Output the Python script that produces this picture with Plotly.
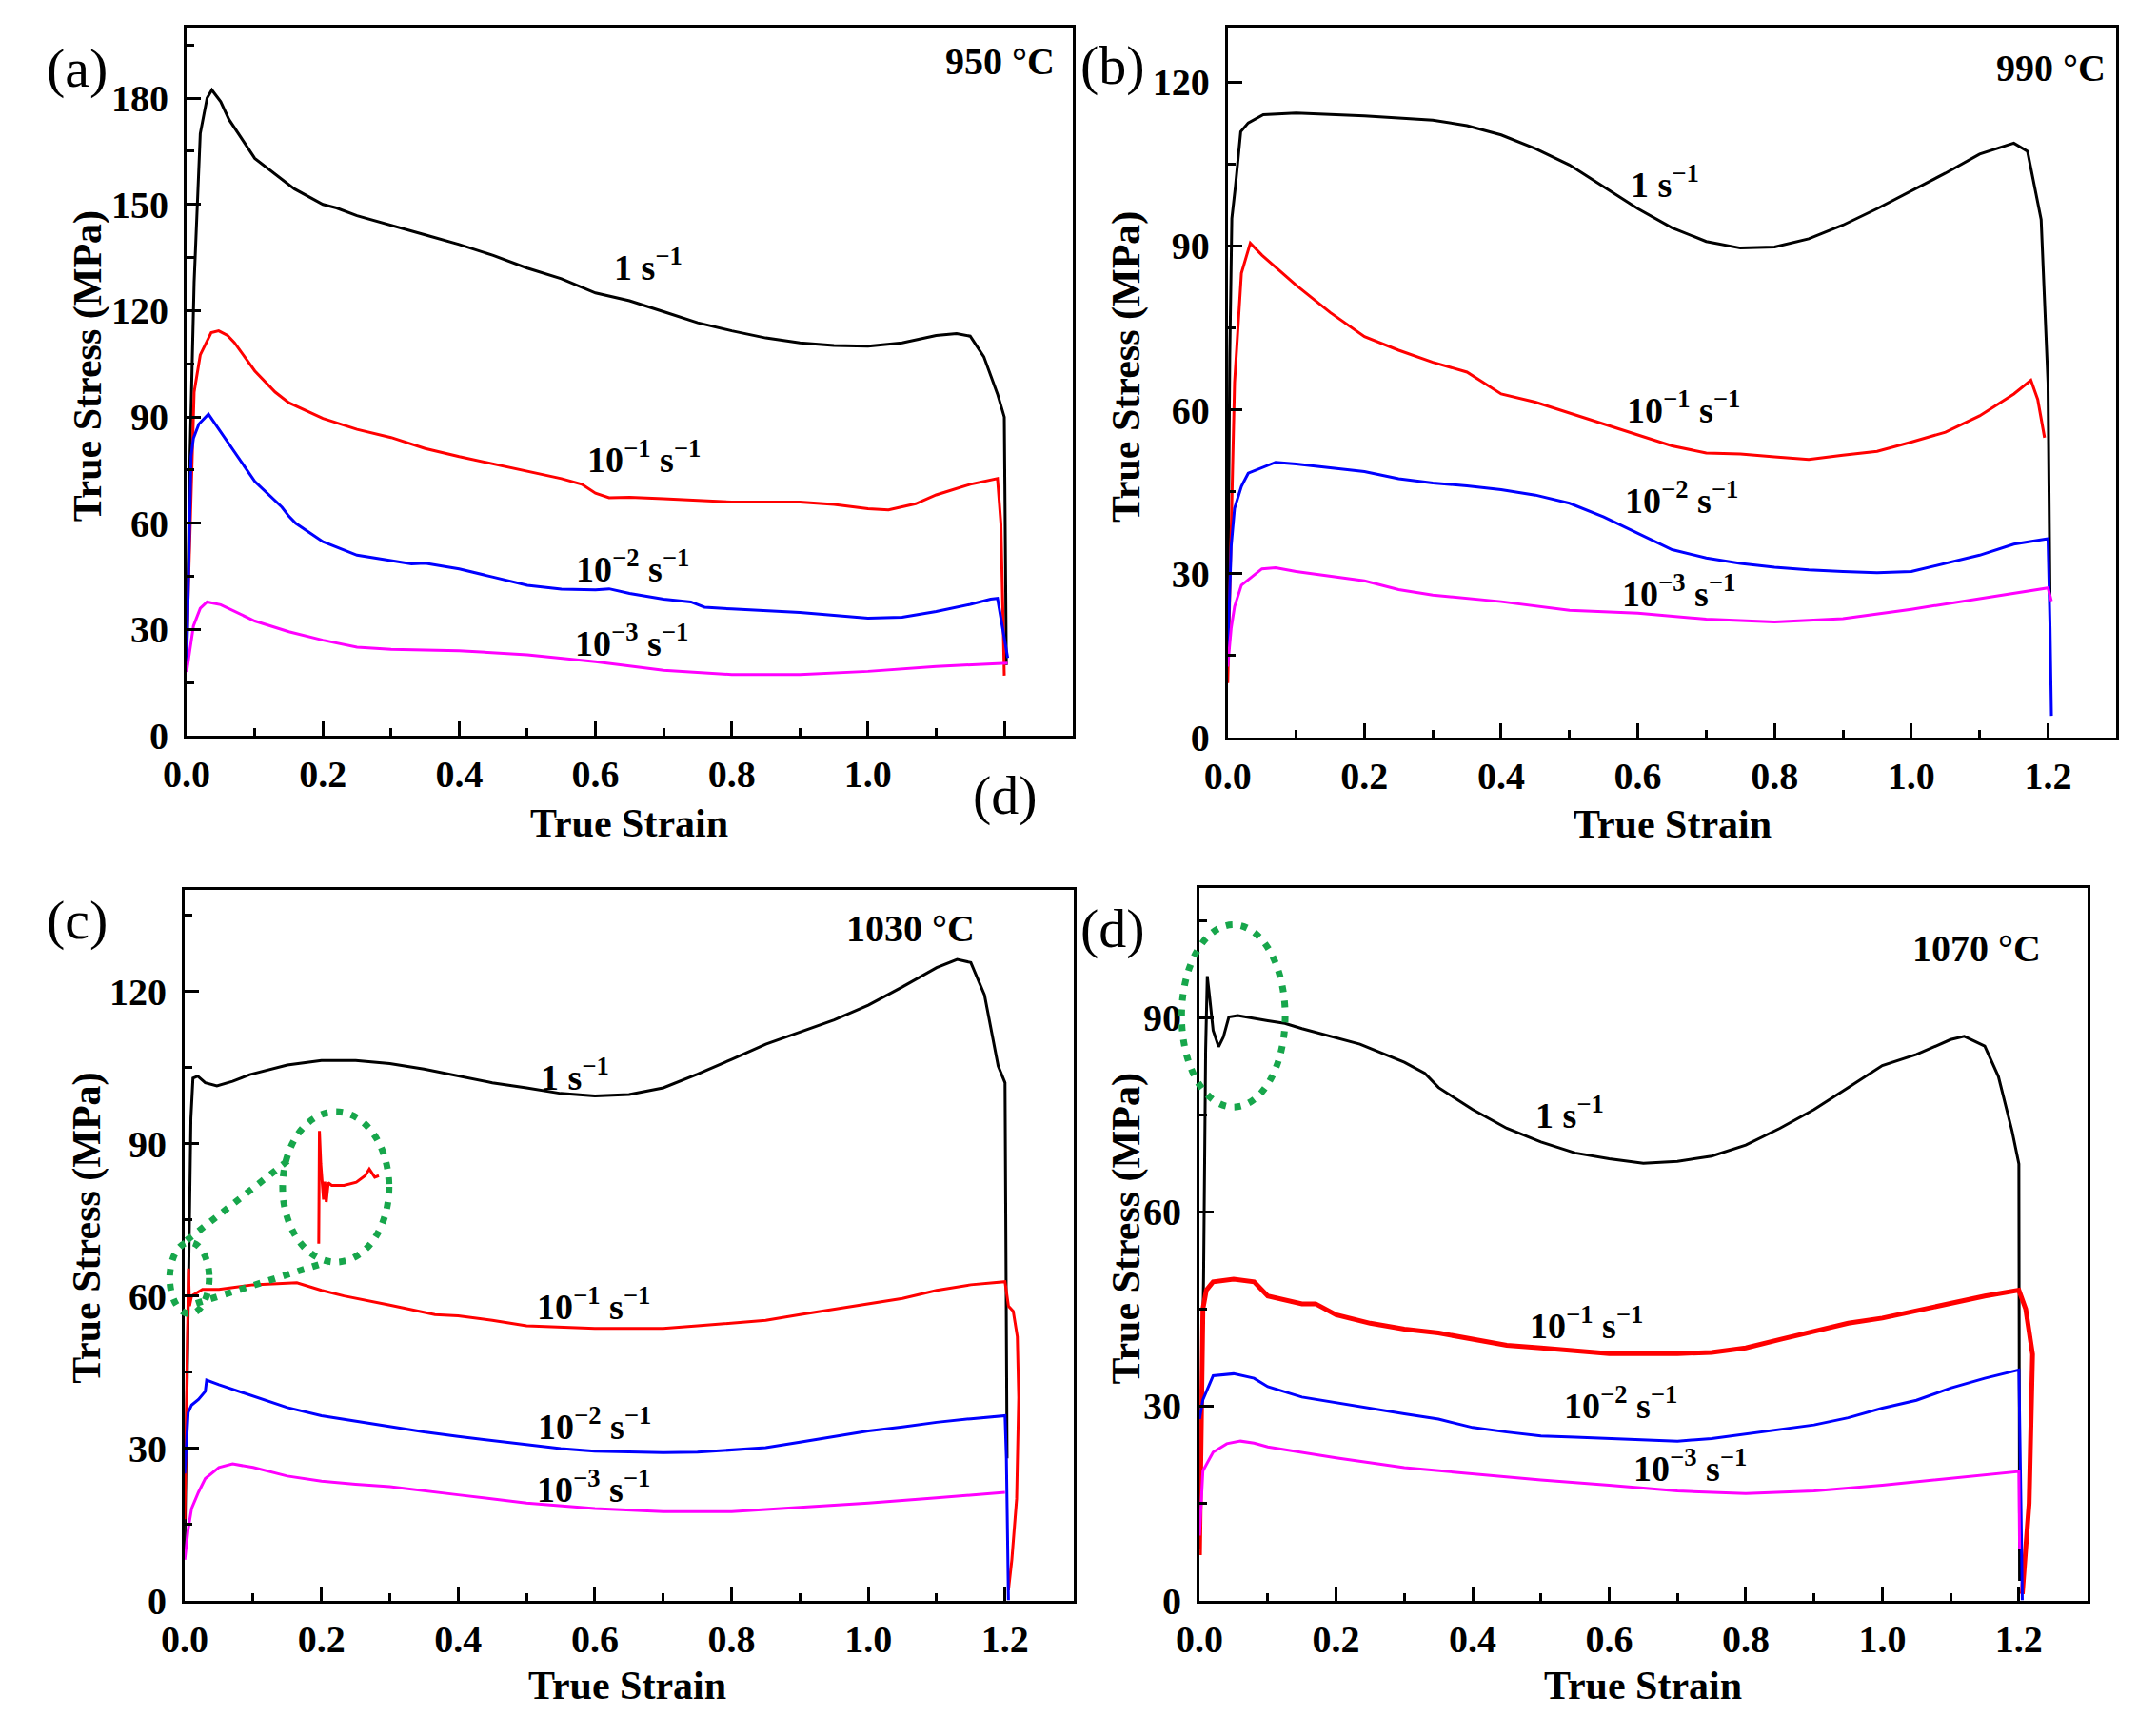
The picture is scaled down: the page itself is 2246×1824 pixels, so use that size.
import plotly.graph_objects as go

W, H = 2246, 1824
FONT = "Liberation Serif"

# ---------------- data ----------------
# (a) 950 C
a1_x = [0.0, 0.005, 0.011, 0.02, 0.03, 0.037, 0.05, 0.062, 0.1, 0.158, 0.2, 0.22, 0.25, 0.3, 0.35, 0.4, 0.45, 0.5,
        0.55, 0.6, 0.65, 0.7, 0.75, 0.8, 0.85, 0.9, 0.95, 1.0, 1.05, 1.1, 1.13, 1.15, 1.17, 1.19, 1.2, 1.203]
a1_y = [20, 80, 128, 170, 180, 182.3, 179, 174, 163, 154.4, 150, 149, 146.8, 144, 141.4, 138.7, 135.6, 132,
        129, 125, 122.8, 119.7, 116.6, 114.3, 112.3, 110.9, 110.2, 110, 110.9, 113, 113.5, 112.8, 107, 96.5, 90, 20]
a2_x = [0.0, 0.005, 0.011, 0.02, 0.036, 0.047, 0.06, 0.07, 0.1, 0.13, 0.15, 0.2, 0.25, 0.3, 0.35, 0.4, 0.45, 0.5,
        0.55, 0.58, 0.6, 0.62, 0.65, 0.7, 0.8, 0.9, 0.95, 1.0, 1.03, 1.07, 1.1, 1.15, 1.19, 1.195, 1.2]
a2_y = [25, 55, 97, 107.5, 113.8, 114.3, 113, 111, 103, 97, 94, 89.6, 86.5, 84.2, 81.1, 78.8, 76.8, 74.6,
        72.6, 71, 68.5, 67.2, 67.3, 66.9, 66, 66, 65.3, 64.1, 63.8, 65.5, 68, 71, 72.6, 60, 17]
a3_x = [0.0, 0.003, 0.0065, 0.01, 0.018, 0.032, 0.05, 0.07, 0.1, 0.14, 0.15, 0.16, 0.2, 0.25, 0.3, 0.33, 0.35,
        0.4, 0.45, 0.5, 0.55, 0.6, 0.62, 0.65, 0.7, 0.74, 0.76, 0.8, 0.9, 1.0, 1.05, 1.1, 1.15, 1.18, 1.19, 1.205]
a3_y = [20, 50, 79, 84, 88, 90.8, 85.7, 80, 71.8, 64.5, 62, 60, 54.8, 51, 49.4, 48.5, 48.7,
        47.1, 44.8, 42.5, 41.4, 41.2, 41.5, 40.2, 38.6, 37.8, 36.3, 35.8, 34.8, 33.2, 33.5, 35.1, 37.1, 38.6, 38.8, 22]
a4_x = [0.0, 0.005, 0.01, 0.02, 0.03, 0.05, 0.1, 0.15, 0.2, 0.25, 0.3, 0.4, 0.5, 0.6, 0.7, 0.8, 0.9, 1.0, 1.1,
        1.19, 1.205]
a4_y = [18, 25, 31, 36, 37.8, 37, 32.4, 29.4, 27, 25, 24.4, 24, 22.9, 20.9, 18.5, 17.3, 17.3, 18.2, 19.6,
        20.4, 20.5]

# (b) 990 C
b1_x = [0.0, 0.003, 0.006, 0.011, 0.019, 0.03, 0.052, 0.1, 0.2, 0.3, 0.35, 0.4, 0.45, 0.5, 0.55, 0.6, 0.65, 0.7,
        0.75, 0.8, 0.85, 0.9, 0.95, 1.0, 1.05, 1.1, 1.15, 1.17, 1.19, 1.2, 1.203]
b1_y = [20, 70, 95, 100.6, 110.9, 112.5, 114, 114.3, 113.8, 113, 112, 110.3, 107.8, 104.8, 100.8, 96.8, 93.3,
        90.8, 89.6, 89.8, 91.3, 93.8, 96.8, 100, 103.3, 106.8, 108.8, 107.3, 94.8, 64.9, 25]
b2_x = [0.0, 0.005, 0.01, 0.02, 0.033, 0.05, 0.1, 0.15, 0.2, 0.25, 0.3, 0.35, 0.4, 0.45, 0.5, 0.55, 0.6, 0.65,
        0.7, 0.75, 0.8, 0.85, 0.9, 0.95, 1.0, 1.05, 1.1, 1.15, 1.175, 1.185, 1.195]
b2_y = [10, 40, 65, 85, 90.5, 88.3, 82.8, 77.8, 73.4, 70.9, 68.7, 66.9, 62.9, 61.4, 59.4, 57.4, 55.4, 53.4,
        52.1, 51.9, 51.4, 50.9, 51.7, 52.4, 54.1, 55.9, 58.9, 62.9, 65.4, 61.9, 54.9]
b3_x = [0.0, 0.005, 0.01, 0.02, 0.03, 0.05, 0.07, 0.1, 0.15, 0.2, 0.25, 0.3, 0.35, 0.4, 0.45, 0.5, 0.55, 0.6,
        0.65, 0.7, 0.75, 0.8, 0.85, 0.9, 0.95, 1.0, 1.05, 1.1, 1.15, 1.2, 1.203, 1.205]
b3_y = [15, 35, 42, 46, 48.4, 49.4, 50.4, 50.1, 49.4, 48.7, 47.4, 46.6, 46.1, 45.4, 44.4, 42.9, 40.4, 37.4,
        34.4, 32.9, 31.9, 31.2, 30.7, 30.4, 30.2, 30.4, 31.9, 33.4, 35.4, 36.4, 20, 4]
b4_x = [0.0, 0.005, 0.01, 0.02, 0.05, 0.07, 0.1, 0.2, 0.25, 0.3, 0.4, 0.5, 0.6, 0.7, 0.8, 0.9, 1.0, 1.1, 1.18,
        1.2, 1.205]
b4_y = [13, 20, 24, 27.9, 30.9, 31.1, 30.4, 28.7, 27.1, 26.1, 24.9, 23.3, 22.8, 21.7, 21.2, 21.8, 23.5, 25.4,
        26.9, 27.4, 25]

# (c) 1030 C
c1_x = [0.0, 0.005, 0.009, 0.012, 0.019, 0.03, 0.047, 0.07, 0.095, 0.15, 0.2, 0.25, 0.3, 0.35, 0.4, 0.45, 0.5,
        0.55, 0.6, 0.65, 0.7, 0.75, 0.8, 0.85, 0.9, 0.95, 1.0, 1.05, 1.1, 1.13, 1.15, 1.17, 1.19, 1.2, 1.203]
c1_y = [10, 60, 95, 102.9, 103.3, 102, 101.4, 102.3, 103.6, 105.5, 106.4, 106.4, 105.8, 104.7, 103.3, 102, 101,
        99.9, 99.4, 99.7, 101, 103.7, 106.6, 109.6, 112, 114.4, 117.3, 120.9, 124.7, 126.3, 125.7, 119.3, 105.3,
        102, 28]
c2_x = [0.0, 0.003, 0.0055, 0.007, 0.01, 0.026, 0.05, 0.1, 0.164, 0.2, 0.233, 0.3, 0.366, 0.4, 0.45, 0.5, 0.55,
        0.6, 0.65, 0.7, 0.75, 0.8, 0.85, 0.9, 0.95, 1.0, 1.05, 1.1, 1.15, 1.2, 1.205, 1.212, 1.218, 1.22, 1.217,
        1.21, 1.205]
c2_y = [16, 40, 65.4, 58, 60, 61.3, 61.3, 62.2, 62.6, 61.1, 60, 58.2, 56.3, 56.1, 55.2, 54.1, 53.8,
        53.6, 53.6, 53.6, 54.1, 54.7, 55.2, 56.3, 57.4, 58.5, 59.5, 61.1, 62.2, 62.8, 58, 57, 52, 40, 20,
        8, 2]
c2_inset_x = [0.196, 0.197, 0.199, 0.203, 0.205, 0.207, 0.21, 0.215, 0.233, 0.251, 0.264, 0.27, 0.278, 0.284]
c2_inset_y = [70.3, 92.5, 86, 79, 82.5, 78.5, 82.3, 81.8, 81.8, 82.4, 83.7, 85.0, 83.4, 83.7]
c3_x = [0.0, 0.003, 0.005, 0.01, 0.02, 0.03, 0.032, 0.05, 0.1, 0.15, 0.2, 0.25, 0.3, 0.35, 0.4, 0.45, 0.5, 0.55,
        0.6, 0.65, 0.7, 0.75, 0.8, 0.85, 0.9, 0.95, 1.0, 1.05, 1.1, 1.15, 1.2, 1.202, 1.205]
c3_y = [25, 33, 37, 38.5, 39.6, 41.2, 43.4, 42.5, 40.2, 38, 36.4, 35.3, 34.2, 33.2, 32.3, 31.5, 30.7, 29.9,
        29.4, 29.2, 29.1, 29.2, 29.6, 30.1, 31.2, 32.3, 33.4, 34.2, 35.1, 35.8, 36.4, 28, 0]
c4_x = [0.0, 0.005, 0.01, 0.02, 0.03, 0.05, 0.07, 0.1, 0.15, 0.2, 0.25, 0.3, 0.4, 0.5, 0.6, 0.7, 0.8, 0.9, 1.0,
        1.1, 1.2]
c4_y = [8, 14, 18.1, 21.3, 24, 26.2, 26.9, 26.2, 24.5, 23.5, 22.9, 22.4, 20.8, 19.2, 18.1, 17.5, 17.5, 18.3,
        19.2, 20.2, 21.3]

# (d) 1070 C
d1_x = [0.0, 0.006, 0.009, 0.0114, 0.015, 0.02, 0.028, 0.035, 0.043, 0.056, 0.1, 0.125, 0.15, 0.2, 0.235, 0.3,
        0.33, 0.35, 0.4, 0.45, 0.5, 0.55, 0.6, 0.65, 0.7, 0.75, 0.8, 0.85, 0.9, 0.95, 1.0, 1.05, 1.1, 1.12, 1.15,
        1.17, 1.19, 1.2, 1.201]
d1_y = [8, 50, 85, 96.4, 93, 88, 85.5, 87, 90.1, 90.3, 89.5, 89.1, 88.3, 86.9, 85.9, 83.1,
        81.4, 79.2, 75.8, 72.9, 70.8, 69.1, 68.2, 67.5, 67.8, 68.6, 70.3, 72.9, 75.8, 79.2, 82.6, 84.3, 86.6,
        87.1, 85.6, 80.9, 72.5, 67.4, 3]
d2_x = [0.0, 0.003, 0.005, 0.01, 0.02, 0.05, 0.08, 0.1, 0.15, 0.17, 0.2, 0.25, 0.3, 0.35, 0.4, 0.45, 0.5, 0.55,
        0.6, 0.65, 0.7, 0.75, 0.8, 0.85, 0.9, 0.95, 1.0, 1.05, 1.1, 1.15, 1.2, 1.21, 1.22, 1.215, 1.205]
d2_y = [7, 30, 45, 47.9, 49.2, 49.6, 49.2, 47, 45.8, 45.8, 44.1, 42.8, 41.9, 41.3, 40.3, 39.4, 39, 38.6,
        38.1, 38.1, 38.1, 38.3, 39, 40.3, 41.5, 42.8, 43.6, 44.7, 45.8, 47, 47.9, 45, 38, 15, 1]
d3_x = [0.0, 0.003, 0.005, 0.02, 0.05, 0.08, 0.1, 0.15, 0.2, 0.25, 0.3, 0.35, 0.4, 0.45, 0.5, 0.55, 0.6, 0.65,
        0.7, 0.75, 0.8, 0.85, 0.9, 0.95, 1.0, 1.05, 1.1, 1.15, 1.2, 1.203, 1.205]
d3_y = [28, 30, 31, 34.7, 35, 34.3, 33, 31.4, 30.5, 29.7, 28.8, 28, 26.7, 26, 25.4, 25.2, 25, 24.8,
        24.6, 25, 25.7, 26.3, 27.1, 28.2, 29.7, 30.9, 32.8, 34.3, 35.6, 15, 0]
d4_x = [0.0, 0.005, 0.02, 0.04, 0.06, 0.08, 0.1, 0.2, 0.3, 0.4, 0.5, 0.6, 0.7, 0.8, 0.9, 1.0, 1.1, 1.2, 1.201]
d4_y = [10, 20, 22.9, 24.2, 24.6, 24.3, 23.7, 22, 20.5, 19.5, 18.6, 17.8, 16.9, 16.5, 16.9, 17.8, 18.8,
        19.9, 8]

PANELS = ["a", "b", "c", "d"]
TEMPS = ["950 \u00b0C", "990 \u00b0C", "1030 \u00b0C", "1070 \u00b0C"]
Y_MAX = [200, 130, 140, 110]
X_TICKS = [0.0, 0.2, 0.4, 0.6, 0.8, 1.0, 1.2]
# panel (a) has no label under its 1.2 tick in the source figure
X_TICKTEXT = {
    "a": ["0.0", "0.2", "0.4", "0.6", "0.8", "1.0", ""],
    "b": ["0.0", "0.2", "0.4", "0.6", "0.8", "1.0", "1.2"],
    "c": ["0.0", "0.2", "0.4", "0.6", "0.8", "1.0", "1.2"],
    "d": ["0.0", "0.2", "0.4", "0.6", "0.8", "1.0", "1.2"],
}
RATE_LABELS = ["1 s<sup>\u22121</sup>", "10<sup>\u22121</sup> s<sup>\u22121</sup>",
               "10<sup>\u22122</sup> s<sup>\u22121</sup>", "10<sup>\u22123</sup> s<sup>\u22121</sup>"]
# label anchor points (strain, stress) per panel, in rate order
LABEL_POS = {
    "a": [(0.677, 133), (0.671, 78.8), (0.655, 47.9), (0.653, 27)],
    "b": [(0.639, 101.8), (0.666, 60.4), (0.664, 43.9), (0.66, 26.9)],
    "c": [(0.571, 103.7), (0.598, 58.4), (0.599, 34.8), (0.598, 22.4)],
    "d": [(0.542, 75.4), (0.567, 42.8), (0.617, 30.5), (0.719, 20.8)],
}
CURVES = {
    "a": [(a1_x, a1_y), (a2_x, a2_y), (a3_x, a3_y), (a4_x, a4_y)],
    "b": [(b1_x, b1_y), (b2_x, b2_y), (b3_x, b3_y), (b4_x, b4_y)],
    "c": [(c1_x, c1_y), (c2_x, c2_y), (c3_x, c3_y), (c4_x, c4_y)],
    "d": [(d1_x, d1_y), (d2_x, d2_y), (d3_x, d3_y), (d4_x, d4_y)],
}
COLORS = ["#000000", "#FF0000", "#0000FF", "#FF00FF"]
GREEN = "#17A64B"

# frame boxes in pixels (left, right, top, bottom)
BOX = {
    "a": (173, 1114, 29, 783),
    "b": (1279, 2223, 29, 785),
    "c": (171, 1115, 947, 1703),
    "d": (1249, 2192, 945, 1703),
}


def px(x, y):
    return x / W, 1 - y / H


def note(text, x, y, size, bold=True, angle=0, xanchor="center"):
    x0, y0 = px(x, y)
    fig.add_annotation(x=x0, y=y0, xref="paper", yref="paper", text=text, showarrow=False,
                       xanchor=xanchor, yanchor="middle", textangle=angle,
                       font=dict(family=FONT, size=size, color="black",
                                 weight="bold" if bold else "normal"))


fig = go.Figure()

for i, p in enumerate(PANELS):
    sfx = "" if i == 0 else str(i + 1)
    xa, ya = "x" + sfx, "y" + sfx
    for (xs, ys), col in zip(CURVES[p], COLORS):
        lw = 5 if (p == "d" and col == "#FF0000") else 3
        fig.add_trace(go.Scatter(x=xs, y=ys, mode="lines", line=dict(color=col, width=lw),
                                 xaxis=xa, yaxis=ya, showlegend=False, hoverinfo="skip"))
    if p == "c":
        fig.add_trace(go.Scatter(x=c2_inset_x, y=c2_inset_y, mode="lines",
                                 line=dict(color="#FF0000", width=3), xaxis=xa, yaxis=ya,
                                 showlegend=False, hoverinfo="skip"))

    l, r, t, b = BOX[p]
    axis_common = dict(showline=True, linewidth=3, linecolor="black", mirror=True,
                       showgrid=False, zeroline=False, ticks="inside", ticklen=15, tickwidth=3,
                       tickcolor="black",
                       tickfont=dict(family=FONT, size=40, color="black", weight="bold"))
    fig.update_layout(**{
        "xaxis" + sfx: dict(axis_common, domain=[l / W, r / W], anchor=ya, range=[0, 1.3],
                            tickmode="array", tickvals=X_TICKS, ticktext=X_TICKTEXT[p],
                            ticklabelstandoff=3,
                            minor=dict(ticks="inside", ticklen=8, tickwidth=3, tickcolor="black",
                                       tick0=0, dtick=0.1, showgrid=False)),
        "yaxis" + sfx: dict(axis_common, domain=[1 - b / H, 1 - t / H], anchor=xa,
                            range=[0, Y_MAX[i]], tick0=0, dtick=30, ticklabelstandoff=8,
                            minor=dict(ticks="inside", ticklen=8, tickwidth=3, tickcolor="black",
                                       dtick=15, showgrid=False)),
    })

    for txt, (lx, ly) in zip(RATE_LABELS, LABEL_POS[p]):
        fig.add_annotation(x=lx, y=ly, xref=xa, yref=ya, text=txt, showarrow=False,
                           xanchor="center", yanchor="middle",
                           font=dict(family=FONT, size=38, color="black", weight="bold"))

# temperature labels (right edge / middle in px)
TEMP_POS = [(1097, 65), (2214, 72), (1012, 988), (2145, 1009)]
for txt, (tx, ty) in zip(TEMPS, TEMP_POS):
    note(txt, tx, ty, 40, xanchor="right")

# panel letters (the stray "(d)" is part of the source figure)
LETTERS = [("(a)", 57, 72), ("(b)", 1157, 69), ("(c)", 57, 979), ("(d)", 1157, 988), ("(d)", 1043, 846)]
for txt, lx, ly in LETTERS:
    note(txt, lx, ly, 58, bold=False)

# axis titles
YT = [(68, 390), (1171, 390), (67, 1307), (1172, 1307)]
XT = [(643, 876), (1751, 877), (641, 1794), (1720, 1794)]
for (yx, yy), (xx, xy) in zip(YT, XT):
    note("True Stress (MPa)", yx, yy, 42, angle=-90)
    note("True Strain", xx, xy, 42)

# green dotted highlight marks
DOT = dict(color=GREEN, width=7, dash="7px,9px")
ELLIPSES = [(176, 1360, 21, 38), (331.5, 1263, 56.5, 80), (1285, 1081, 55, 97)]
for cx, cy, rx, ry in ELLIPSES:
    x0, y0 = px(cx - rx, cy + ry)
    x1, y1 = px(cx + rx, cy - ry)
    fig.add_shape(type="circle", xref="paper", yref="paper", x0=x0, y0=y0, x1=x1, y1=y1, line=DOT)
LINKS = [(173, 1320, 287, 1230), (183, 1387, 322, 1343)]
for sx, sy, ex, ey in LINKS:
    x0, y0 = px(sx, sy)
    x1, y1 = px(ex, ey)
    fig.add_shape(type="line", xref="paper", yref="paper", x0=x0, y0=y0, x1=x1, y1=y1, line=DOT)

fig.update_layout(width=W, height=H, margin=dict(l=0, r=0, t=0, b=0),
                  paper_bgcolor="white", plot_bgcolor="white",
                  font=dict(family=FONT, color="black"))

fig.write_html("out.html", config={"displayModeBar": False},
               post_script="document.body.style.margin='0';")
